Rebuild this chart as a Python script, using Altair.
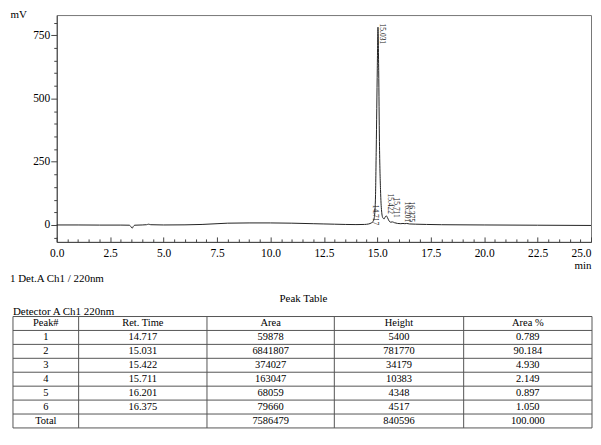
import altair as alt
import pandas as pd

SERIF = "Liberation Serif"

# ---------------- chromatogram ----------------
times = [0.0, 1.0, 2.0, 3.0, 3.40, 3.48, 3.53, 3.58, 3.65, 4.0, 4.2, 4.3, 4.4, 5.0, 6.0,
         6.8, 7.5, 8.0, 9.0, 10.0, 11.0, 12.0, 12.5, 13.0, 13.5, 14.0, 14.4, 14.6, 14.717,
         14.80, 14.86, 14.91, 14.95, 15.00, 15.031, 15.065, 15.10, 15.15, 15.20, 15.26,
         15.32, 15.37, 15.422, 15.47, 15.55, 15.62, 15.711, 15.80, 15.95, 16.10, 16.201,
         16.29, 16.375, 16.50, 16.80, 17.30, 18.0, 20.0, 22.5, 25.0]
signal = [0.0, 0.0, -0.5, -0.5, -1.0, -8.0, -13.0, -6.0, -1.0, 0.0, 1.0, 3.0, 1.0, 0.0, 0.5,
          2.0, 5.0, 7.0, 8.0, 8.0, 7.0, 5.0, 4.0, 3.0, 2.0, 1.5, 2.0, 4.0, 8.0,
          13.0, 30.0, 95.0, 300.0, 620.0, 782.0, 610.0, 330.0, 140.0, 55.0, 28.0,
          24.0, 32.0, 36.0, 30.0, 16.0, 11.0, 12.0, 9.0, 6.0, 5.0, 6.0,
          5.0, 6.0, 4.0, 3.0, 2.0, 1.0, 0.0, -1.0, -2.0]

# peak labels
label_times = [14.717, 15.031, 15.422, 15.711, 16.201, 16.375]
label_text = ["14.717", "15.031", "15.422", "15.711", "16.201", "16.375"]
label_top_mv = [98, 814, 142, 126, 110, 110]

# ---------------- peak table ----------------
columns = ["Peak#", "Ret. Time", "Area", "Height", "Area %"]
peak_no = ["1", "2", "3", "4", "5", "6"]
ret_time = ["14.717", "15.031", "15.422", "15.711", "16.201", "16.375"]
area = [59878, 6841807, 374027, 163047, 68059, 79660]
height = [5400, 781770, 34179, 10383, 4348, 4517]
area_pct = [0.789, 90.184, 4.930, 2.149, 0.897, 1.050]
total_area = 7586479
total_height = 840596
total_pct = 100.000

notes = ["1 Det.A Ch1 / 220nm", "Peak Table", "Detector A Ch1 220nm"]

# layout of table columns (pixel widths)
col_widths = [66, 129, 128, 130, 129]

# ---------------- build chromatogram ----------------
chrom_df = pd.DataFrame({"t": times, "mV": signal})
lab_df = pd.DataFrame({"t": label_times, "lab": label_text, "ytop": label_top_mv})

x_scale = alt.Scale(domain=[0, 25], nice=False, zero=False)
y_scale = alt.Scale(domain=[-67, 830], nice=False, zero=False)

x_axis = alt.Axis(
    values=[i * 0.5 for i in range(51)],
    labelExpr="datum.value % 2.5 === 0 ? format(datum.value, '.1f') : ''",
    tickSize={"condition": {"test": "datum.value % 2.5 === 0", "value": -5}, "value": -3},
    labelPadding=10.5,
    labelFlush=False,
    labelOverlap=False,
    labelBound=False,
    labelAlign={"condition": {"test": "datum.value === 25", "value": "right"}, "value": "center"},
    labelFont=SERIF, labelFontSize=11.5, labelColor="#000",
    domainColor="#444", tickColor="#444", tickWidth=1, ticks=True, grid=False,
    title="min", titleFont=SERIF, titleFontSize=11, titleFontWeight="normal",
    titleAlign="right", titleAnchor="end", titleX=537, titleY=24, titleBaseline="middle",
    titleColor="#000",
)
y_axis = alt.Axis(
    values=list(range(-50, 801, 50)),
    labelExpr="datum.value % 250 === 0 ? datum.label : ''",
    tickSize={"condition": {"test": "datum.value % 250 === 0", "value": 6}, "value": 3},
    labelPadding=1,
    labelOverlap=False,
    labelBound=False,
    labelFont=SERIF, labelFontSize=11.5, labelColor="#000",
    domainColor="#444", tickColor="#444", tickWidth=1, ticks=True, grid=False,
    title="mV", titleAngle=0, titleFont=SERIF, titleFontSize=11, titleFontWeight="normal",
    titleAlign="left", titleX=-47, titleY=-1, titleBaseline="middle", titleColor="#000",
)

line = alt.Chart(chrom_df).mark_line(color="#222", strokeWidth=1, interpolate="monotone").encode(
    x=alt.X("t:Q", scale=x_scale, axis=x_axis),
    y=alt.Y("mV:Q", scale=y_scale, axis=y_axis),
)
labels = alt.Chart(lab_df).mark_text(
    angle=90, align="left", baseline="bottom", dx=4.5, font=SERIF, fontSize=7.5, color="#222"
).encode(
    x=alt.X("t:Q", scale=x_scale, axis=x_axis),
    y=alt.Y("ytop:Q", scale=y_scale, axis=y_axis),
    text="lab:N",
)
chrom = alt.layer(line, labels)

# ---------------- build table ----------------
edges = [0]
for w in col_widths:
    edges.append(edges[-1] + w)
centers = [(edges[i] + edges[i + 1]) / 2 for i in range(len(columns))]

rows = [columns]
for i in range(len(peak_no)):
    rows.append([peak_no[i], ret_time[i], str(area[i]), str(height[i]), f"{area_pct[i]:.3f}"])
rows.append(["Total", "", str(total_area), str(total_height), f"{total_pct:.3f}"])
n_rows = len(rows)

cells = []
for r, row in enumerate(rows):
    for c, txt in enumerate(row):
        cells.append({"cx": centers[c], "cy": r + 0.5, "txt": txt})
cells_df = pd.DataFrame(cells)

hl_df = pd.DataFrame({"y": list(range(n_rows + 1)), "x": [0] * (n_rows + 1), "x2": [edges[-1]] * (n_rows + 1)})
vl_df = pd.DataFrame({"x": edges, "y": [0] * len(edges), "y2": [n_rows] * len(edges)})

tx_scale = alt.Scale(domain=[0, edges[-1]], range=[-44, 538], nice=False, zero=False)
ty_scale = alt.Scale(domain=[0, n_rows], range=[303, 415], nice=False, zero=False)

hlines = alt.Chart(hl_df).mark_rule(color="#555", strokeWidth=1).encode(
    x=alt.X("x:Q", scale=tx_scale, axis=None),
    x2="x2:Q",
    y=alt.Y("y:Q", scale=ty_scale, axis=None),
)
vlines = alt.Chart(vl_df).mark_rule(color="#555", strokeWidth=1).encode(
    x=alt.X("x:Q", scale=tx_scale, axis=None),
    y=alt.Y("y:Q", scale=ty_scale, axis=None),
    y2="y2:Q",
)
texts = alt.Chart(cells_df).mark_text(font=SERIF, fontSize=10.5, color="#000", baseline="middle").encode(
    x=alt.X("cx:Q", scale=tx_scale, axis=None),
    y=alt.Y("cy:Q", scale=ty_scale, axis=None),
    text="txt:N",
)

note_pos = [(-47, 265, "left"), (248, 285, "center"), (-44, 298, "left")]
note_charts = []
for txt, (px, py, al) in zip(notes, note_pos):
    note_charts.append(
        alt.Chart(pd.DataFrame({"txt": [txt]})).mark_text(
            font=SERIF, fontSize=11, color="#000", align=al, baseline="middle"
        ).encode(x=alt.value(px), y=alt.value(py), text="txt:N")
    )

table = alt.layer(hlines, vlines, texts, *note_charts)

chart = alt.layer(chrom, table).resolve_scale(x="independent", y="independent").properties(
    width=537, height=228,
    autosize=alt.AutoSizeParams(type="none"),
    padding={"left": 49, "top": 6, "right": 2, "bottom": 195},
    background="white",
).configure_view(stroke="#777", strokeWidth=1)

chart.save("out.html", embed_options={"renderer": "svg", "actions": False})
